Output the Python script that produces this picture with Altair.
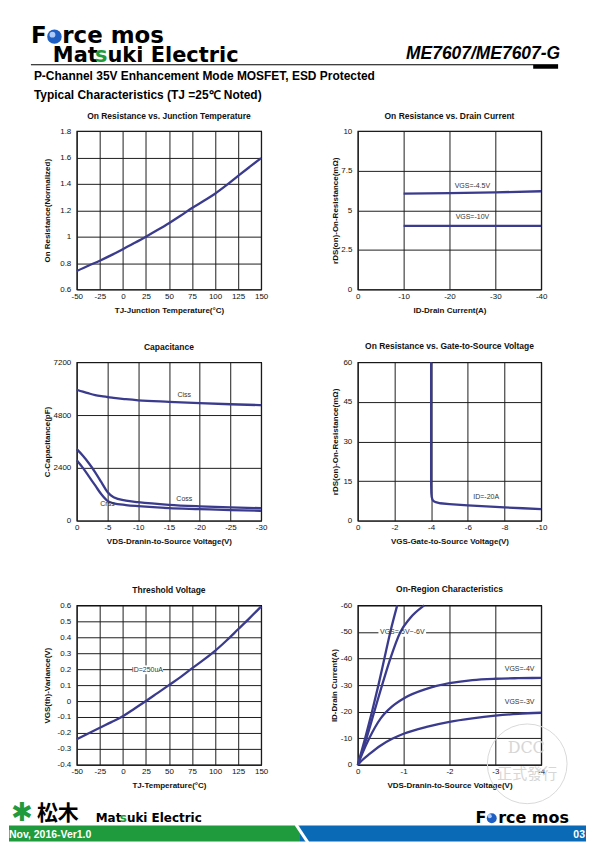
import altair as alt
import pandas as pd

FONT = "Liberation Sans"
LOGO_FONT = "DejaVu Sans"
NAVY = "#3b3b8e"
GRID = "#1e1e1e"
GREEN = "#1f9a3c"
BLUE = "#0a6ab6"

# ---------------- page texts ----------------
HDR_PART = "ME7607/ME7607-G"
HDR_SUB1 = "P-Channel 35V Enhancement Mode MOSFET, ESD Protected"
HDR_SUB2 = "Typical Characteristics (TJ =25℃ Noted)"
LOGO_F, LOGO_RCE = "F", "rce mos"
LOGO_MAT, LOGO_S, LOGO_UKI = "Mat", "s", "uki Electric"
FOOT_DATE = "Nov, 2016-Ver1.0"
FOOT_PAGE = "03"
FOOT_KANJI = "松木"
FOOT_STAR = "✱"
STAMP_1, STAMP_2 = "DCC", "正式發行"

# ---------------- panel 1: On Resistance vs. Junction Temperature ----------------
p1_title = "On Resistance vs. Junction Temperature"
p1_xt, p1_yt = "TJ-Junction Temperature(°C)", "On Resistance(Normalized)"
p1_xticks = [-50, -25, 0, 25, 50, 75, 100, 125, 150]
p1_yticks = [0.6, 0.8, 1.0, 1.2, 1.4, 1.6, 1.8]
p1_tj = [-50, -37.5, -25, -12.5, 0, 12.5, 25, 37.5, 50, 62.5, 75, 87.5, 100, 112.5, 125, 137.5, 150]
p1_r = [0.74, 0.78, 0.818, 0.86, 0.905, 0.952, 1.0, 1.05, 1.102, 1.158, 1.217, 1.27, 1.325, 1.39, 1.46, 1.528, 1.595]

# ---------------- panel 2: On Resistance vs. Drain Current ----------------
p2_title = "On Resistance vs. Drain Current"
p2_xt, p2_yt = "ID-Drain Current(A)", "rDS(on)-On-Resistance(mΩ)"
p2_xticks = [0, -10, -20, -30, -40]
p2_yticks = [0, 2.5, 5, 7.5, 10]
p2_id = [-10, -20, -30, -40]
p2_r45 = [6.05, 6.08, 6.13, 6.2]
p2_r10 = [4.02, 4.02, 4.02, 4.02]
p2_lab = ["VGS=-4.5V", "VGS=-10V"]
p2_lab_x = [-25, -25]
p2_lab_y = [6.55, 4.55]

# ---------------- panel 3: Capacitance ----------------
p3_title = "Capacitance"
p3_xt, p3_yt = "VDS-Dranin-to-Source Voltage(V)", "C-Capacitance(pF)"
p3_xticks = [0, -5, -10, -15, -20, -25, -30]
p3_yticks = [0, 2400, 4800, 7200]
p3_v = [0, -1, -2, -3, -4, -5, -6, -8, -10, -15, -20, -25, -30]
p3_ciss = [5950, 5860, 5780, 5710, 5660, 5620, 5580, 5520, 5470, 5400, 5340, 5290, 5250]
p3_coss = [3250, 2950, 2600, 2200, 1750, 1300, 1060, 910, 840, 720, 650, 600, 570]
p3_crss = [2750, 2400, 2000, 1600, 1200, 900, 790, 710, 660, 570, 525, 480, 450]
p3_lab = ["Ciss", "Coss", "Crss"]
p3_lab_x = [-17.5, -17.5, -5.0]
p3_lab_y = [5730, 962, 737]

# ---------------- panel 4: On Resistance vs. Gate-to-Source Voltage ----------------
p4_title = "On Resistance vs. Gate-to-Source Voltage"
p4_xt, p4_yt = "VGS-Gate-to-Source Voltage(V)", "rDS(on)-On-Resistance(mΩ)"
p4_xticks = [0, -2, -4, -6, -8, -10]
p4_yticks = [0, 15, 30, 45, 60]
p4_vgs = [-4.0, -4.0, -4.01, -4.03, -4.07, -4.13, -4.25, -4.5, -5.0, -6.0, -7.0, -8.0, -9.0, -10.0]
p4_r = [60, 14, 10.5, 9.0, 8.0, 7.4, 7.0, 6.6, 6.3, 5.8, 5.4, 5.0, 4.7, 4.4]
p4_lab = ["ID=-20A"]
p4_lab_x = [-7.0]
p4_lab_y = [8.9]

# ---------------- panel 5: Threshold Voltage ----------------
p5_title = "Threshold Voltage"
p5_xt, p5_yt = "TJ-Temperature(°C)", "VGS(th)-Variance(V)"
p5_xticks = [-50, -25, 0, 25, 50, 75, 100, 125, 150]
p5_yticks = [-0.4, -0.3, -0.2, -0.1, 0, 0.1, 0.2, 0.3, 0.4, 0.5, 0.6]
p5_tj = [-50, -37.5, -25, -12.5, 0, 12.5, 25, 37.5, 50, 62.5, 75, 87.5, 100, 112.5, 125, 137.5, 150]
p5_dv = [-0.24, -0.203, -0.167, -0.132, -0.095, -0.048, 0.0, 0.05, 0.1, 0.15, 0.205, 0.258, 0.315, 0.38, 0.45, 0.52, 0.593]
p5_lab = ["ID=250uA"]
p5_lab_x = [26.6]
p5_lab_y = [0.196]
p5_box_x, p5_box_x2 = [10.5], [43.5]
p5_box_y, p5_box_y2 = [0.168], [0.224]

# ---------------- panel 6: On-Region Characteristics ----------------
p6_title = "On-Region Characteristics"
p6_xt, p6_yt = "VDS-Dranin-to-Source Voltage(V)", "ID-Drain Current(A)"
p6_xticks = [0, -1, -2, -3, -4]
p6_yticks = [-60, -50, -40, -30, -20, -10, 0]
p6_v6 = [0, -0.16, -0.31, -0.45, -0.58, -0.71, -0.86]
p6_i6 = [0, -10, -20, -30, -40, -50, -60]
p6_v5 = [0, -0.19, -0.36, -0.53, -0.71, -0.93, -1.13, -1.45]
p6_i5 = [0, -10, -20, -30, -40, -50, -55, -60]
p6_v4 = [0, -0.1, -0.25, -0.5, -0.75, -1.0, -1.5, -2.0, -2.5, -3.0, -3.5, -4.0]
p6_i4 = [0, -4.3, -10.0, -17.5, -22.0, -25.0, -28.6, -30.7, -31.9, -32.4, -32.6, -32.7]
p6_v3 = [0, -0.1, -0.25, -0.5, -0.75, -1.0, -1.5, -2.0, -2.5, -3.0, -3.5, -4.0]
p6_i3 = [0, -1.8, -4.0, -7.3, -9.8, -11.7, -14.3, -16.2, -17.5, -18.5, -19.2, -19.6]
p6_lab = ["VGS=-5V~-6V", "VGS=-4V", "VGS=-3V"]
p6_lab_x = [-0.97, -3.53, -3.53]
p6_lab_y = [-50, -36, -23.7]
p6_box_x, p6_box_x2 = [-0.45], [-1.49]
p6_box_y, p6_box_y2 = [-48.2], [-51.8]


# ---------------- helpers ----------------
def enc_x(dom, vals, title):
    return alt.X("x:Q", title=title,
                 scale=alt.Scale(domain=dom, nice=False, zero=False),
                 axis=alt.Axis(values=vals, labelExpr="'' + datum.value"))


def enc_y(dom, vals, title, ext, tpad, rev=False):
    return alt.Y("y:Q", title=title,
                 scale=alt.Scale(domain=dom, reverse=rev, nice=False, zero=False),
                 axis=alt.Axis(values=vals, labelExpr="'' + datum.value",
                               titlePadding=tpad, minExtent=ext, maxExtent=ext))


def series_df(pairs):
    rows = []
    for name, xs, ys in pairs:
        for i, (a, b) in enumerate(zip(xs, ys)):
            rows.append({"x": a, "y": b, "s": name, "o": i})
    return pd.DataFrame(rows)


def curves(df, X, Y, interp="monotone"):
    return alt.Chart(df).mark_line(color=NAVY, strokeWidth=2.3, interpolate=interp).encode(
        x=X, y=Y, detail="s:N", order="o:Q")


def labels(texts, xs, ys, X, Y):
    df = pd.DataFrame({"x": xs, "y": ys, "t": texts})
    return alt.Chart(df).mark_text(fontSize=7, color="#333", font=FONT, baseline="middle").encode(
        x=X, y=Y, text="t:N")


def box(x1, x2, y1, y2, X, Y):
    df = pd.DataFrame({"x": x1, "x2": x2, "y": y1, "y2": y2})
    return alt.Chart(df).mark_rect(color="white").encode(x=X, x2="x2:Q", y=Y, y2="y2:Q")


def panel(layers, title, w, h):
    return alt.layer(*layers).properties(
        width=w, height=h, title=title,
        view=alt.ViewBackground(stroke="black", strokeWidth=1.2))


one = pd.DataFrame({"a": [0]})


def txt(s, x, y, size, color="black", font=FONT, weight="bold", align="left",
        style="normal", baseline="alphabetic", opacity=1.0):
    return alt.Chart(one).mark_text(
        fontSize=size, color=color, font=font, fontWeight=weight, align=align,
        fontStyle=style, baseline=baseline, opacity=opacity).encode(
        x=alt.value(x), y=alt.value(y), text=alt.value(s))


def rect(x, x2, y, y2, color):
    return alt.Chart(one).mark_rect(color=color).encode(
        x=alt.value(x), x2=alt.value(x2), y=alt.value(y), y2=alt.value(y2))


def sphere(x, y, size):
    return alt.layer(
        alt.Chart(one).mark_point(shape="circle", filled=True, size=size, color="#1f5fc4", opacity=1).encode(
            x=alt.value(x), y=alt.value(y)),
        alt.Chart(one).mark_point(shape="circle", filled=True, size=size / 6, color="#bcd6ff", opacity=0.9).encode(
            x=alt.value(x - 2), y=alt.value(y - 2)),
    )


def spacer(w, h):
    # an invisible rect exactly covering the cell, so it adds nothing to the page bounds
    return alt.Chart(one).mark_rect(color="white", opacity=0).encode(
        x=alt.value(0), x2=alt.value(w), y=alt.value(0), y2=alt.value(h)).properties(width=w, height=h)


# ---------------- panels ----------------
X1 = enc_x([-50, 150], p1_xticks, p1_xt)
Y1 = enc_y([0.6, 1.8], p1_yticks, p1_yt, 20, 5)
c1 = panel([curves(series_df([("r", p1_tj, p1_r)]), X1, Y1)], p1_title, 185, 159)

X2 = enc_x([0, -40], p2_xticks, p2_xt)
Y2 = enc_y([0, 10], p2_yticks, p2_yt, 16, 2)
c2 = panel([curves(series_df([("a", p2_id, p2_r45), ("b", p2_id, p2_r10)]), X2, Y2, "linear"),
            labels(p2_lab, p2_lab_x, p2_lab_y, X2, Y2)], p2_title, 184, 159)

X3 = enc_x([0, -30], p3_xticks, p3_xt)
Y3 = enc_y([0, 7200], p3_yticks, p3_yt, 20, 5)
c3 = panel([curves(series_df([("ciss", p3_v, p3_ciss), ("coss", p3_v, p3_coss), ("crss", p3_v, p3_crss)]), X3, Y3),
            labels(p3_lab, p3_lab_x, p3_lab_y, X3, Y3)], p3_title, 185, 159)

X4 = enc_x([0, -10], p4_xticks, p4_xt)
Y4 = enc_y([0, 60], p4_yticks, p4_yt, 16, 2)
c4 = panel([curves(series_df([("r", p4_vgs, p4_r)]), X4, Y4, "linear"),
            labels(p4_lab, p4_lab_x, p4_lab_y, X4, Y4)], p4_title, 184, 159)

X5 = enc_x([-50, 150], p5_xticks, p5_xt)
Y5 = enc_y([-0.4, 0.6], p5_yticks, p5_yt, 20, 5)
c5 = panel([box(p5_box_x, p5_box_x2, p5_box_y, p5_box_y2, X5, Y5),
            curves(series_df([("v", p5_tj, p5_dv)]), X5, Y5),
            labels(p5_lab, p5_lab_x, p5_lab_y, X5, Y5)], p5_title, 185, 160)

X6 = enc_x([0, -4], p6_xticks, p6_xt)
Y6 = enc_y([-60, 0], p6_yticks, p6_yt, 16, 3, rev=True)
c6 = panel([box(p6_box_x, p6_box_x2, p6_box_y, p6_box_y2, X6, Y6),
            curves(series_df([("g6", p6_v6, p6_i6), ("g5", p6_v5, p6_i5),
                              ("g4", p6_v4, p6_i4), ("g3", p6_v3, p6_i3)]), X6, Y6),
            labels(p6_lab, p6_lab_x, p6_lab_y, X6, Y6)], p6_title, 184, 160)

# ---------------- header (drawn from a 68px-wide grid cell, overflowing to the right) ----------------
header = alt.layer(
    txt(LOGO_F, 22, 33, 23, font=LOGO_FONT),
    sphere(45.6, 26.3, 210),
    txt(LOGO_RCE, 53.5, 33, 23, font=LOGO_FONT),
    txt(LOGO_MAT, 44, 52, 21, font=LOGO_FONT),
    txt(LOGO_S, 86.3, 52, 21, color=GREEN, font=LOGO_FONT),
    txt(LOGO_UKI, 98.8, 52, 21, font=LOGO_FONT),
    txt(HDR_PART, 553, 49, 17.5, align="right", style="italic"),
    alt.Chart(one).mark_rule(color="black", strokeWidth=1.2).encode(
        x=alt.value(22), x2=alt.value(551), y=alt.value(54.5)),
    rect(526, 551, 54.5, 58.5, "black"),
    txt(HDR_SUB1, 25, 70, 12),
    txt(HDR_SUB2, 25, 89, 12),
).properties(width=68, height=121)

# ---------------- footer ----------------
footer = alt.layer(
    rect(0, 292, 61, 77, GREEN),
    rect(292, 579, 61, 77, BLUE),
    alt.Chart(one).mark_rule(color="white", strokeWidth=3).encode(
        x=alt.value(288), x2=alt.value(300), y=alt.value(60), y2=alt.value(78)),
    txt(FOOT_DATE, 0, 73, 10.5, color="white", font="Liberation Sans Narrow, Liberation Sans"),
    txt(FOOT_PAGE, 578, 73, 10.5, color="white", align="right"),
    txt(FOOT_STAR, 13, 48, 26, color=GREEN, font="DejaVu Sans", align="center", baseline="middle"),
    txt(FOOT_KANJI, 28, 49, 21, font="Noto Sans CJK JP", baseline="middle"),
    txt(LOGO_MAT, 87, 57, 12, font=LOGO_FONT),
    txt(LOGO_S, 111.2, 57, 12, color=GREEN, font=LOGO_FONT),
    txt(LOGO_UKI, 118.3, 57, 12, font=LOGO_FONT),
    txt(LOGO_F, 468, 58, 16, font=LOGO_FONT),
    sphere(484.4, 53.5, 100),
    txt(LOGO_RCE, 490.9, 58, 16, font=LOGO_FONT),
    alt.Chart(one).mark_point(shape="circle", filled=False, size=6400, color="#d9d9d9",
                              strokeWidth=1, opacity=1).encode(x=alt.value(520), y=alt.value(-1)),
    txt(STAMP_1, 519, -12, 16, color="#d6d6d6", font="DejaVu Serif", weight="normal", align="center"),
    txt(STAMP_2, 520, 14, 15, color="#d6d6d6", font="Noto Sans CJK TC", weight="normal", align="center"),
).properties(width=68, height=77)

# ---------------- page grid: 4 columns [margin, left panel, gutter, right panel] ----------------
cells = [
    header, spacer(185, 1), spacer(97, 1), spacer(184, 1),
    spacer(68, 232), c1, spacer(97, 1), c2,
    spacer(68, 244), c3, spacer(97, 1), c4,
    spacer(68, 160), c5, spacer(97, 1), c6,
    footer, spacer(185, 1), spacer(97, 1), spacer(184, 1),
]

chart = alt.concat(
    *cells, columns=4, spacing=0, bounds="flush", padding=0,
).configure(padding=0).configure_view(stroke="transparent").configure_axis(
    domain=False, ticks=False, grid=True, gridColor=GRID, gridWidth=1, gridOpacity=1,
    labelFont=FONT, labelFontSize=8, labelColor="#111", labelFlush=False, labelOverlap=False,
    titleFont=FONT, titleFontSize=8, titleFontWeight="bold", titleColor="#111",
).configure_axisX(labelPadding=3, titlePadding=6).configure_axisY(labelPadding=6).configure_title(
    font=FONT, fontSize=8.5, fontWeight="bold", color="#111", offset=7, anchor="middle")

chart.save("out.html", embed_options={"renderer": "svg", "actions": False})
